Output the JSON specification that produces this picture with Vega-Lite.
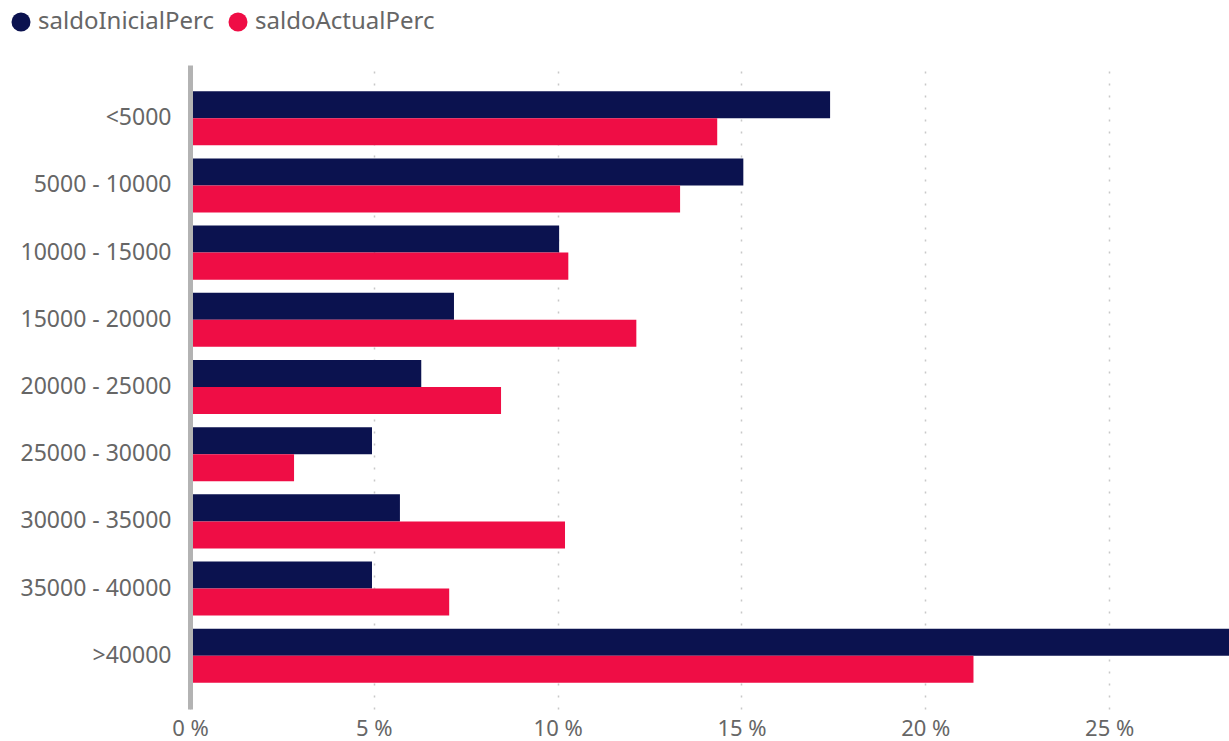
{
  "$schema": "https://vega.github.io/schema/vega-lite/v6.json",
  "autosize": {"type": "none"},
  "width": 1039,
  "height": 644,
  "padding": {"left": 190, "top": 65, "right": 0, "bottom": 32},
  "background": "white",
  "config": {"view": {"stroke": null}, "font": "Noto Sans"},
  "data": {
    "values": [
      {"range": "<5000", "series": "saldoInicialPerc", "value": 17.41},
      {"range": "<5000", "series": "saldoActualPerc", "value": 14.34},
      {"range": "5000 - 10000", "series": "saldoInicialPerc", "value": 15.05},
      {"range": "5000 - 10000", "series": "saldoActualPerc", "value": 13.33},
      {"range": "10000 - 15000", "series": "saldoInicialPerc", "value": 10.04},
      {"range": "10000 - 15000", "series": "saldoActualPerc", "value": 10.29},
      {"range": "15000 - 20000", "series": "saldoInicialPerc", "value": 7.18},
      {"range": "15000 - 20000", "series": "saldoActualPerc", "value": 12.14},
      {"range": "20000 - 25000", "series": "saldoInicialPerc", "value": 6.29},
      {"range": "20000 - 25000", "series": "saldoActualPerc", "value": 8.46},
      {"range": "25000 - 30000", "series": "saldoInicialPerc", "value": 4.95},
      {"range": "25000 - 30000", "series": "saldoActualPerc", "value": 2.83},
      {"range": "30000 - 35000", "series": "saldoInicialPerc", "value": 5.71},
      {"range": "30000 - 35000", "series": "saldoActualPerc", "value": 10.2},
      {"range": "35000 - 40000", "series": "saldoInicialPerc", "value": 4.95},
      {"range": "35000 - 40000", "series": "saldoActualPerc", "value": 7.05},
      {"range": ">40000", "series": "saldoInicialPerc", "value": 28.3},
      {"range": ">40000", "series": "saldoActualPerc", "value": 21.31}
    ]
  },
  "mark": {"type": "bar", "clip": true},
  "encoding": {
    "y": {
      "field": "range",
      "type": "nominal",
      "sort": null,
      "scale": {"paddingInner": 0.195, "paddingOuter": 0.39},
      "axis": {
        "title": null,
        "ticks": false,
        "domainColor": "#b3b3b3",
        "domainWidth": 5,
        "labelFontSize": 23,
        "labelColor": "#666666",
        "labelPadding": 19,
        "labelLimit": 0,
        "zindex": 1
      }
    },
    "yOffset": {
      "field": "series",
      "type": "nominal",
      "scale": {"domain": ["saldoInicialPerc", "saldoActualPerc"], "paddingInner": 0, "paddingOuter": 0}
    },
    "x": {
      "field": "value",
      "type": "quantitative",
      "scale": {"domain": [0, 28.26], "nice": false},
      "axis": {
        "title": null,
        "values": [0, 5, 10, 15, 20, 25],
        "labelExpr": "datum.value + ' %'",
        "labelFlush": false,
        "domain": false,
        "ticks": false,
        "labelFontSize": 22,
        "labelColor": "#666666",
        "labelPadding": 9,
        "gridColor": "#c8c8c8",
        "gridDash": [2, 10],
        "gridWidth": 1.5
      }
    },
    "color": {
      "field": "series",
      "type": "nominal",
      "scale": {"domain": ["saldoInicialPerc", "saldoActualPerc"], "range": ["#0B124F", "#EF0D45"]},
      "legend": {
        "title": null,
        "orient": "none",
        "legendX": -181,
        "legendY": -55,
        "direction": "horizontal",
        "symbolType": "circle",
        "symbolSize": 361,
        "symbolStrokeWidth": 0,
        "labelFontSize": 24,
        "labelLimit": 0,
        "labelColor": "#666666",
        "labelOffset": 5,
        "columnPadding": 12
      }
    }
  }
}
